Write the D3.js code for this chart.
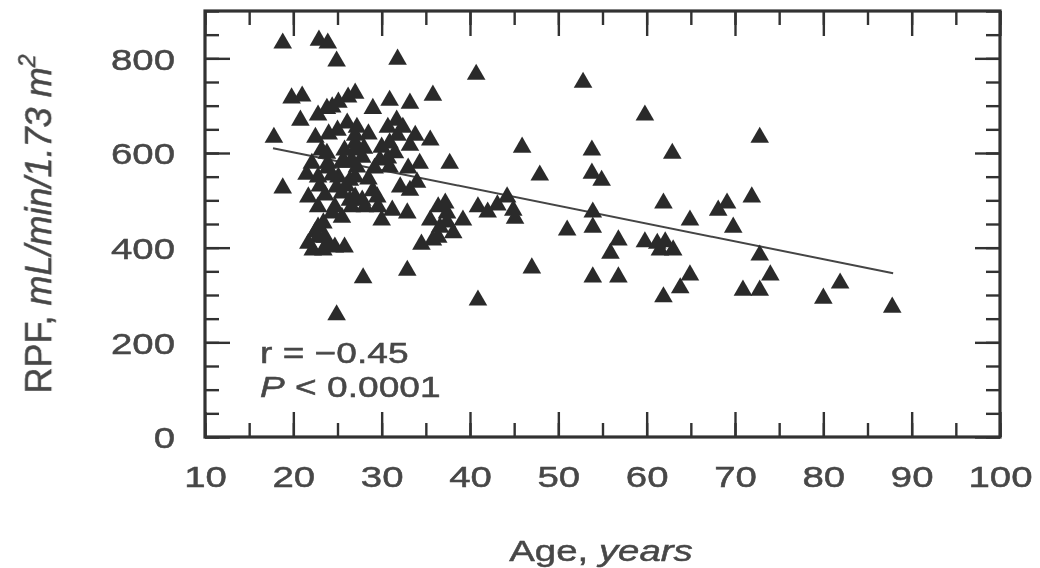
<!DOCTYPE html>
<html>
<head>
<meta charset="utf-8">
<script src="https://cdn.jsdelivr.net/npm/d3@7"></script>
<style>
  body { margin: 0; background: #fff; }
  svg { display: block; font-family: "Liberation Sans", Arial, sans-serif; }
</style>
</head>
<body>
<svg id="chart" width="1040" height="568"></svg>
<script>
// values
const ages = [18.8, 22.9, 23.9, 24.9, 31.8, 40.7, 52.8, 59.8, 72.8, 19.8,
  21.0, 23.8, 25.1, 26.2, 27.0, 29.0, 30.9, 33.2, 35.8, 20.8,
  22.8, 31.7, 32.4, 26.1, 27.2, 30.7, 17.8, 22.5, 25.0, 23.2,
  27.0, 27.8, 26.6, 22.1, 23.9, 22.8, 25.1, 30.0, 30.9, 33.2,
  35.5, 23.8, 25.8, 27.2, 29.8, 30.9, 34.3, 37.7, 26.4, 24.9,
  32.1, 33.2, 34.0, 45.9, 47.9, 53.8, 53.8, 54.9, 62.9, 18.8,
  21.7, 23.6, 25.5, 27.0, 28.1, 22.8, 24.7, 29.5, 26.4, 31.2,
  30.0, 32.9, 37.4, 37.4, 39.2, 40.9, 42.0, 43.1, 44.2, 44.9,
  45.1, 53.9, 51.0, 53.9, 61.9, 64.9, 68.1, 69.1, 69.8, 71.9,
  72.8, 74.0, 70.9, 72.8, 80.0, 81.9, 87.8, 56.8, 55.9, 59.8,
  61.2, 62.1, 63.0, 61.5, 47.0, 53.9, 56.8, 64.9, 63.8, 61.9,
  40.9, 23.4, 22.8, 21.7, 23.9, 22.2, 22.5, 23.4, 25.8, 27.9,
  32.9, 24.9, 34.5, 35.8, 36.6, 38.1, 35.5, 24.4, 27.0, 27.0,
  31.8, 30.7, 33.8, 23.9, 25.8, 29.2, 33.0, 24.4, 27.0, 27.8,
  26.6, 24.4, 25.5, 29.6, 22.8, 23.6, 24.7, 36.4, 37.2, 36.4,
  25.5, 24.0, 28.5, 29.0, 26.0, 23.0, 28.0, 21.5, 31.5, 28.5];
const rpf = [832, 838, 832, 794, 798, 766, 749, 680, 633, 716,
  720, 694, 707, 718, 726, 694, 711, 705, 722, 669,
  680, 669, 654, 663, 654, 654, 633, 633, 648, 606,
  621, 591, 585, 578, 578, 549, 549, 612, 621, 616,
  627, 599, 606, 570, 585, 570, 578, 578, 542, 528,
  528, 521, 538, 612, 553, 606, 557, 542, 599, 526,
  507, 511, 515, 507, 486, 486, 486, 507, 500, 479,
  458, 473, 454, 473, 458, 486, 475, 490, 507, 479,
  462, 475, 437, 443, 494, 458, 479, 494, 443, 507,
  384, 342, 310, 310, 293, 325, 274, 416, 388, 412,
  409, 412, 395, 395, 357, 338, 338, 342, 315, 296,
  289, 452, 422, 409, 409, 395, 433, 395, 401, 336,
  352, 258, 407, 416, 443, 431, 458, 697, 637, 606,
  637, 589, 637, 568, 580, 568, 568, 553, 549, 500,
  486, 473, 464, 486, 443, 422, 401, 486, 494, 422,
  580, 640, 640, 520, 530, 530, 610, 555, 600, 545];

// regression line end points
const fitAge = [17.7, 87.9];
const fitRpf = [610, 346];

const xMajor = d3.range(10, 101, 10);
const xMinor = d3.range(10, 101, 5);
const yMajor = d3.range(0, 801, 200);
const yMinor = d3.range(0, 901, 50);

const svg = d3.select('#chart');
const ink = '#333';
const textInk = '#474747';
const stretch = 1.28; // labels in the scan run wide

const x = d3.scaleLinear().domain([10, 100]).range([205, 1000]);
const y = d3.scaleLinear().domain([0, 900]).range([437, 11]);

const plotLeft = x.range()[0], plotRight = x.range()[1];
const plotBottom = y.range()[0], plotTop = y.range()[1];

// soften everything a bit like the print
const defs = svg.append('defs');
defs.append('filter').attr('id', 'soft')
  .append('feGaussianBlur').attr('stdDeviation', 0.6);

const g = svg.append('g').attr('filter', 'url(#soft)');

function tidy(sel) {
  sel.select('.domain').remove();
  sel.selectAll('.tick line').attr('stroke', ink).attr('stroke-width', 2.4);
}

// heavier strokes on the lettering, as in the print
function inked(sel) {
  sel.attr('fill', textInk).attr('stroke', textInk).attr('stroke-width', 0.5);
}

// minor ticks on all four sides
g.append('g').attr('transform', `translate(0,${plotBottom})`)
  .call(d3.axisBottom(x).tickValues(xMinor).tickSize(-14).tickFormat(''))
  .call(tidy);
g.append('g').attr('transform', `translate(0,${plotTop})`)
  .call(d3.axisTop(x).tickValues(xMinor).tickSize(-14).tickFormat(''))
  .call(tidy);
g.append('g').attr('transform', `translate(${plotLeft},0)`)
  .call(d3.axisLeft(y).tickValues(yMinor).tickSize(-14).tickFormat(''))
  .call(tidy);
g.append('g').attr('transform', `translate(${plotRight},0)`)
  .call(d3.axisRight(y).tickValues(yMinor).tickSize(-14).tickFormat(''))
  .call(tidy);

// major ticks, labelled on bottom and left
const xAxis = g.append('g').attr('transform', `translate(0,${plotBottom})`)
  .call(d3.axisBottom(x).tickValues(xMajor).tickSize(-25))
  .call(tidy);
xAxis.selectAll('.tick text')
  .attr('y', 0).attr('dy', '0.36em')
  .attr('transform', `translate(0,39) scale(${stretch},1)`)
  .style('font-size', '30px')
  .call(inked);

g.append('g').attr('transform', `translate(0,${plotTop})`)
  .call(d3.axisTop(x).tickValues(xMajor).tickSize(-25).tickFormat(''))
  .call(tidy);

const yAxis = g.append('g').attr('transform', `translate(${plotLeft},0)`)
  .call(d3.axisLeft(y).tickValues(yMajor).tickSize(-25))
  .call(tidy);
yAxis.selectAll('.tick text')
  .attr('x', 0).attr('dy', '0.36em')
  .attr('transform', `translate(-30,0) scale(${stretch},1)`)
  .style('font-size', '30px')
  .call(inked);

g.append('g').attr('transform', `translate(${plotRight},0)`)
  .call(d3.axisRight(y).tickValues(yMajor).tickSize(-25).tickFormat(''))
  .call(tidy);

// frame
g.append('rect')
  .attr('x', plotLeft).attr('y', plotTop)
  .attr('width', plotRight - plotLeft).attr('height', plotBottom - plotTop)
  .attr('fill', 'none').attr('stroke', ink).attr('stroke-width', 3.2);

// regression line
g.append('line')
  .attr('x1', x(fitAge[0])).attr('y1', y(fitRpf[0]))
  .attr('x2', x(fitAge[1])).attr('y2', y(fitRpf[1]))
  .attr('stroke', '#444').attr('stroke-width', 2);

// points
const tri = d3.symbol(d3.symbolTriangle, 150);
g.append('g').selectAll('path')
  .data(d3.zip(ages, rpf))
  .join('path')
  .attr('d', tri)
  .attr('transform', d => `translate(${x(d[0])},${y(d[1])})`)
  .attr('fill', '#2b2b2b');

// r and P annotation
const note = g.append('g').style('font-size', '29px').call(inked);
note.append('text')
  .attr('transform', `translate(260,363) scale(${stretch},1)`)
  .text('r = \u22120.45');
const pLine = note.append('text')
  .attr('transform', `translate(260,397) scale(${stretch},1)`);
pLine.append('tspan').style('font-style', 'italic').text('P');
pLine.append('tspan').text(' < 0.0001');

// axis titles
g.append('text')
  .attr('transform', `translate(601,561) scale(${stretch},1)`)
  .attr('text-anchor', 'middle')
  .style('font-size', '30px')
  .call(inked)
  .call(t => {
    t.append('tspan').text('Age, ');
    t.append('tspan').style('font-style', 'italic').text('years');
  });

g.append('text')
  .attr('transform', 'translate(51,224) rotate(-90) scale(1,1.05)')
  .attr('text-anchor', 'middle')
  .style('font-size', '36px')
  .call(inked)
  .call(t => {
    t.append('tspan').text('RPF, ');
    t.append('tspan').style('font-style', 'italic').text('mL/min/1.73 m');
    t.append('tspan').style('font-style', 'italic').style('font-size', '23px')
      .attr('dy', '-15').text('2');
  });
</script>
</body>
</html>
